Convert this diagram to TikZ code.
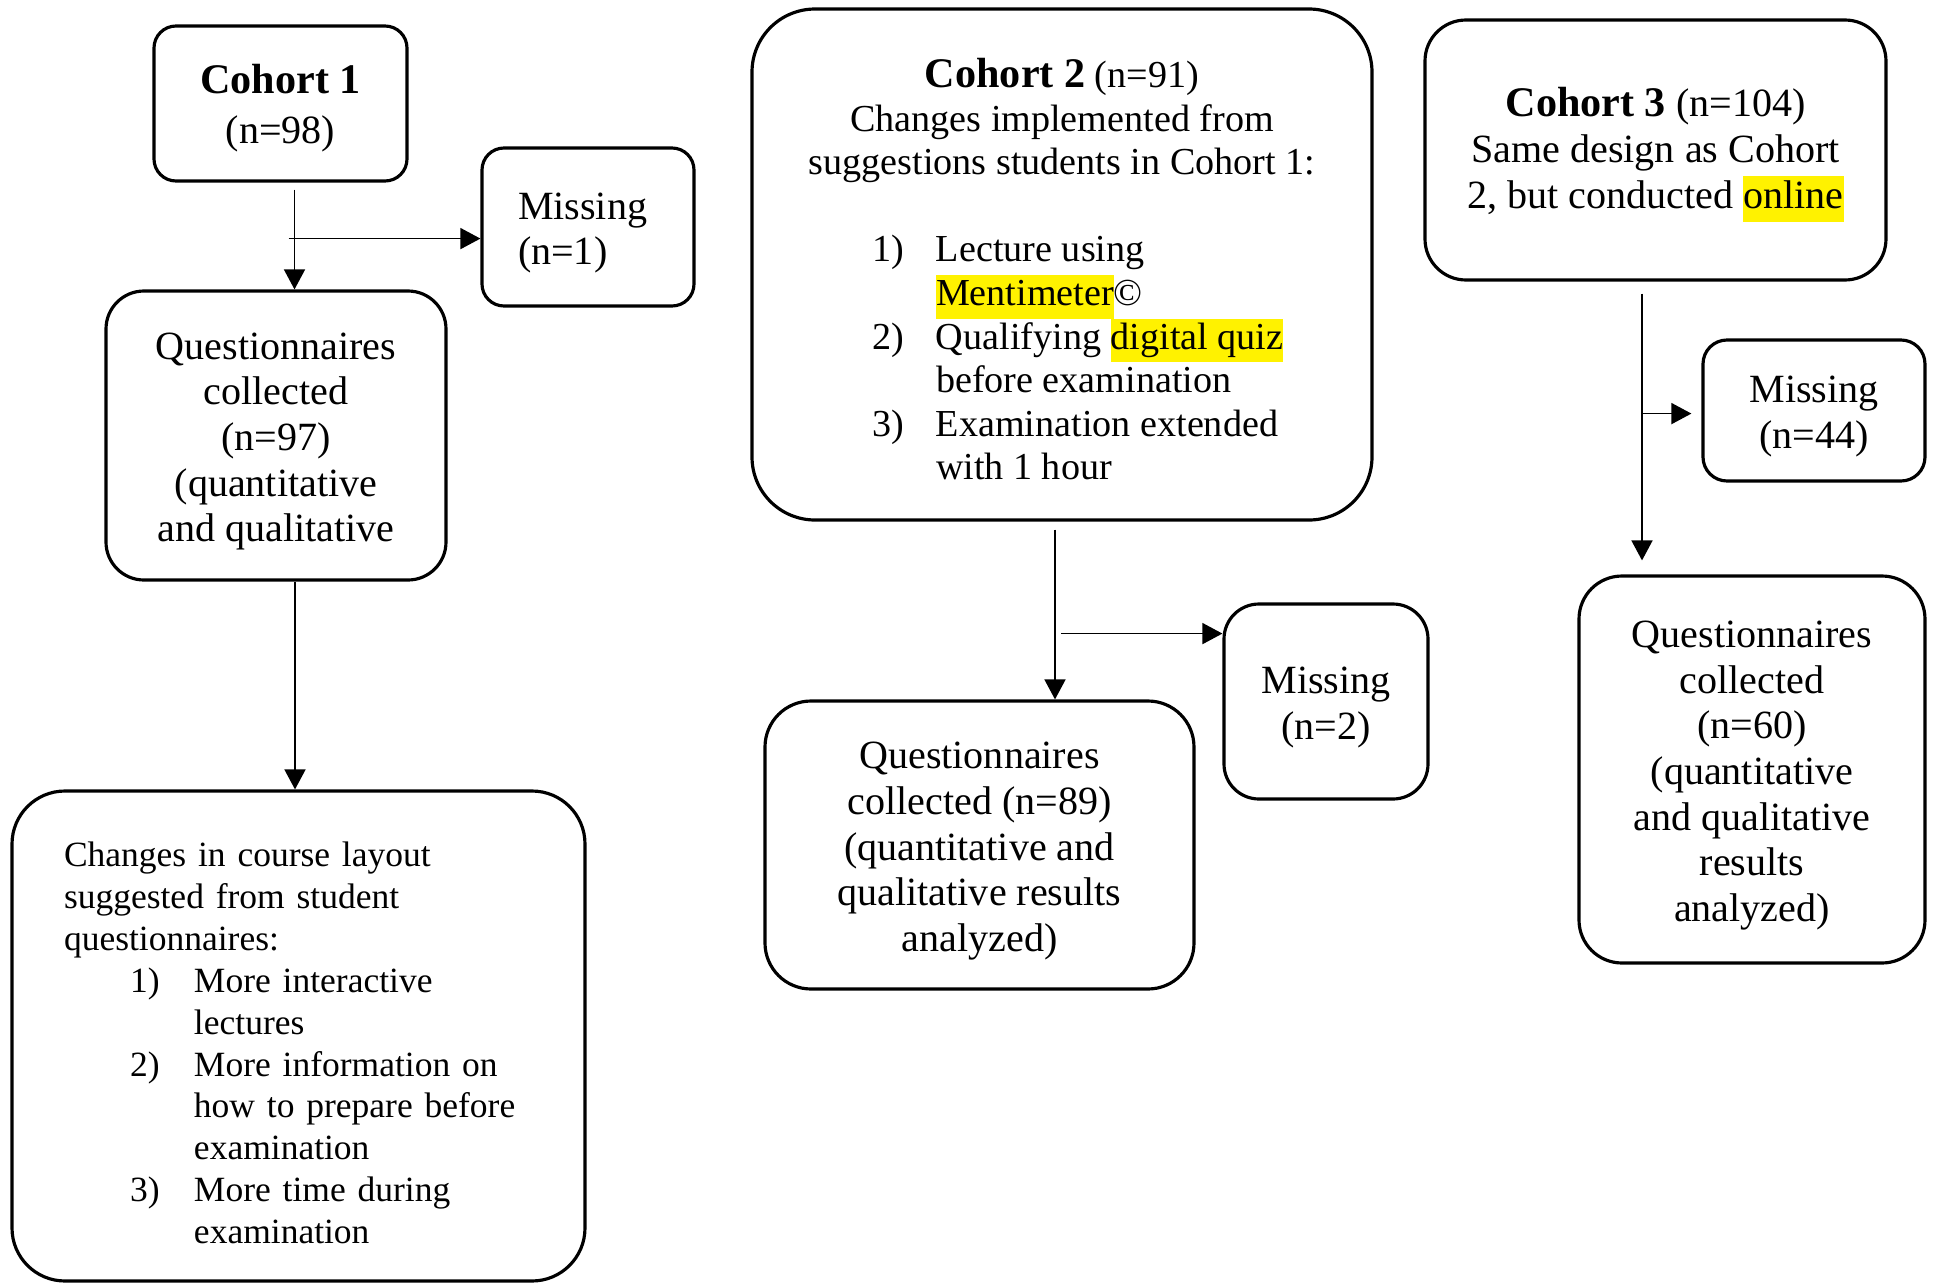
\documentclass[tikz,border=0pt]{standalone}
\usepackage{fontspec}
\setmainfont{Liberation Serif}
\usetikzlibrary{arrows.meta,calc}

\newcommand{\hilite}[1]{{\setlength{\fboxsep}{0pt}\colorbox{yellow}{\strut #1}}}
\newcommand{\itemline}[2]{\makebox[38mm][l]{\makebox[6.4mm][l]{#1}#2}}
\newcommand{\subline}[2]{\hspace*{6.6mm}\makebox[6.4mm][l]{#1}#2}
\newcommand{\tstrut}{\rule{0pt}{11pt}}

\begin{document}
\begin{tikzpicture}[x=0.1mm,y=-0.1mm,
  box/.style={draw,line width=0.9pt,inner sep=0pt,align=center,font=\fontsize{11.4}{13}\selectfont},
  arr/.style={-{Triangle[width=2.1mm,length=2mm]},line width=0.45pt}]
  % bounding box
  \useasboundingbox (0,0) rectangle (1934,1283);
  % Cohort 1
  \node[box,minimum width=25.3mm,minimum height=15.5mm,rounded corners=2.2mm] (c1) at (280.5,103.5)
    {\tstrut{\fontsize{12}{14}\selectfont\bfseries Cohort 1}\\[1pt](n=98)};
  \node[box,align=left,text width=14mm,minimum width=21.2mm,minimum height=15.8mm,rounded corners=2.2mm] (m1) at (588,227)
    {\tstrut Missing\\(n=1)};
  \node[box,minimum width=34mm,minimum height=28.9mm,rounded corners=3.8mm] (q1) at (276,435.5)
    {\tstrut Questionnaires\\collected\\(n=97)\\(quantitative\\and qualitative};
  \node[box,align=left,text width=46.9mm,minimum width=57.3mm,minimum height=49mm,rounded corners=5.3mm,
    font=\fontsize{10.1}{11.9}\selectfont] (ch1) at (298.5,1036)
    {\tstrut Changes in course layout\\suggested from student\\questionnaires:\\
     \subline{1)}{More interactive}\\\subline{}{lectures}\\
     \subline{2)}{More information on}\\\subline{}{how to prepare before}\\\subline{}{examination}\\
     \subline{3)}{More time during}\\\subline{}{examination}};
  % Cohort 2
  \node[box,minimum width=62mm,minimum height=51.1mm,rounded corners=6.3mm,
    font=\fontsize{10.85}{12.4}\selectfont] (c2) at (1062,264.5)
    {\tstrut{\fontsize{12}{14}\selectfont\bfseries Cohort 2} (n=91)\\
     Changes implemented from\\suggestions students in Cohort 1:\\[12.4pt]
     \itemline{1)}{Lecture using}\\\itemline{}{\hilite{Mentimeter}©}\\
     \itemline{2)}{Qualifying \hilite{digital quiz}}\\\itemline{}{before examination}\\
     \itemline{3)}{Examination extended}\\\itemline{}{with 1 hour}};
  \node[box,minimum width=20.4mm,minimum height=19.5mm,rounded corners=3.5mm] (m2) at (1326,701.5)
    {\tstrut Missing\\(n=2)};
  \node[box,minimum width=42.9mm,minimum height=28.8mm,rounded corners=4.6mm] (q2) at (979.5,845)
    {\tstrut Questionnaires\\collected (n=89)\\(quantitative and\\qualitative results\\analyzed)};
  % Cohort 3
  \node[box,minimum width=46.1mm,minimum height=26mm,rounded corners=4.1mm] (c3) at (1655.5,150)
    {\tstrut{\fontsize{12}{14}\selectfont\bfseries Cohort 3} (n=104)\\Same design as Cohort\\2, but conducted \hilite{online}};
  \node[box,minimum width=22.2mm,minimum height=14.1mm,rounded corners=2.4mm] (m3) at (1814,410.5)
    {\tstrut Missing\\(n=44)};
  \node[box,minimum width=34.6mm,minimum height=38.7mm,rounded corners=4.3mm] (q3) at (1752,769.5)
    {\tstrut Questionnaires\\collected\\(n=60)\\(quantitative\\and qualitative\\results\\analyzed)};
  % Arrows
  \coordinate (s1) at ($(c1.south)+(14,7)$);
  \coordinate (b1) at ($(s1)+(-6,49)$);
  \draw[arr] (s1) -- (s1 |- q1.north);
  \draw[arr] (b1) -- (b1 -| m1.west);
  \coordinate (s2) at ($(q1.south)+(19,0)$);
  \draw[arr] (s2) -- (s2 |- ch1.north);
  \coordinate (s3) at ($(c2.south)+(-7,8)$);
  \coordinate (b3) at ($(s3)+(6,104)$);
  \draw[arr] (s3) -- (s3 |- q2.north);
  \draw[arr] (b3) -- (b3 -| m2.west);
  \coordinate (s5) at ($(c3.south)+(-13.5,12)$);
  \coordinate (b5) at ($(s5)+(0,120)$);
  \draw[arr] (s5) -- ($(s5 |- q3.north)+(0,-14)$);
  \draw[arr] (b5) -- ($(b5 -| m3.west)+(-10,0)$);
\end{tikzpicture}
\end{document}
